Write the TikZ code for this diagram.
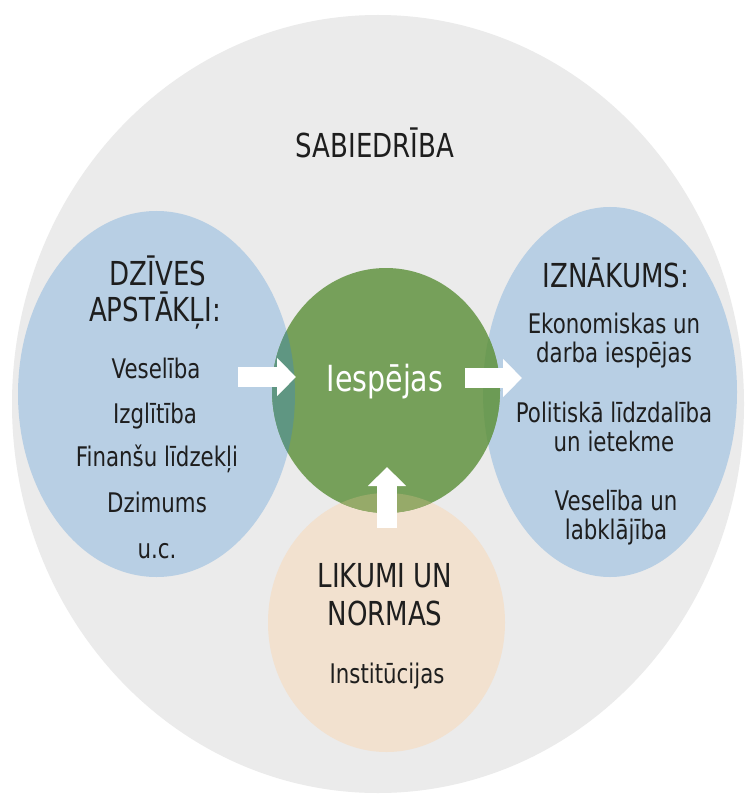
\documentclass[tikz,border=0pt]{standalone}
\usepackage{fontspec}
\newfontfamily\dvs[FakeStretch=0.79]{DejaVu Sans}
\usetikzlibrary{arrows.meta,shapes.geometric}
\definecolor{sgrey}{HTML}{EBEBEB}
\definecolor{sblue}{HTML}{B8CFE4}
\definecolor{sgreen}{HTML}{76A05A}
\definecolor{speach}{HTML}{F2E1CF}
\definecolor{ovleft}{HTML}{5F9682}
\definecolor{ovright}{HTML}{6C9B55}
\definecolor{ovbottom}{HTML}{96AA69}
\definecolor{txt}{HTML}{1E1E1E}
\tikzset{
  blob/.style={ellipse, inner sep=0pt, outer sep=0pt, draw=none},
  head/.style={font=\dvs\fontsize{33}{38}\selectfont, text=txt, anchor=base, inner sep=0pt},
  body/.style={font=\dvs\fontsize{27}{30}\selectfont, text=txt, anchor=base, inner sep=0pt},
  blockarrow/.style={draw=white, line width=20pt, line cap=butt,
    -{Triangle[width=37pt,length=19pt]}}
}
\begin{document}
\begin{tikzpicture}[x=1pt,y=-1pt]
\useasboundingbox (0,0) rectangle (746,794);
\fill[white] (0,0) rectangle (746,794);
% shapes
\node[blob, fill=sgrey, minimum width=732pt, minimum height=778pt] (soc) at (378,404) {};
\node[blob, fill=sblue, minimum width=277pt, minimum height=366pt] (life) at (156.5,394) {};
\node[blob, fill=sblue, minimum width=254pt, minimum height=370pt] (out) at (610,392) {};
\node[blob, fill=speach, minimum width=237pt, minimum height=259pt] (law) at (386.5,622.5) {};
\node[blob, fill=sgreen, minimum width=228pt, minimum height=245pt] (opp) at (386,390.5) {};
% overlaps
\begin{scope}
\clip (156.5,394) ellipse [x radius=138.5pt, y radius=183pt];
\fill[ovleft] (386,390.5) ellipse [x radius=114pt, y radius=122.5pt];
\end{scope}
\begin{scope}
\clip (610,392) ellipse [x radius=127pt, y radius=185pt];
\fill[ovright] (386,390.5) ellipse [x radius=114pt, y radius=122.5pt];
\end{scope}
\begin{scope}
\clip (386.5,622.5) ellipse [x radius=118.5pt, y radius=129.5pt];
\fill[ovbottom] (386,390.5) ellipse [x radius=114pt, y radius=122.5pt];
\end{scope}
% texts
\node[head] (tsoc) at (375,158) {SABIEDRĪBA};
\node[head] (tl1) at (158,285) {DZĪVES};
\node[head] (tl2) at (155,321) {APSTĀKĻI:};
\node[body] (tl3) at (156,378) {Veselība};
\node[body] (tl4) at (155,423) {Izglītība};
\node[body] (tl5) at (157,466) {Finanšu līdzekļi};
\node[body] (tl6) at (157,512) {Dzimums};
\node[body] (tl7) at (157,558) {u.c.};
\node[head] (tr1) at (616,287) {IZNĀKUMS:};
\node[body] (tr2) at (614,333) {Ekonomiskas un};
\node[body] (tr3) at (614,362) {darba iespējas};
\node[body] (tr4) at (614,422) {Politiskā līdzdalība};
\node[body] (tr5) at (614,451) {un ietekme};
\node[body] (tr6) at (616,510) {Veselība un};
\node[body] (tr7) at (616,539) {labklājība};
\node[head] (tb1) at (385,587) {LIKUMI UN};
\node[head] (tb2) at (385,625) {NORMAS};
\node[body] (tb3) at (387,683) {Institūcijas};
\node[font=\dvs\fontsize{36}{40}\selectfont, text=white, anchor=base, inner sep=0pt] (topp) at (385,391) {Iespējas};
% arrows
\coordinate (a1s) at (238,377);
\coordinate (a1e) at (296,377);
\coordinate (a2s) at (465,378);
\coordinate (a2e) at (522,378);
\coordinate (a3s) at (387,528);
\coordinate (a3e) at (387,467);
\draw[blockarrow] (a1s) -- (a1e);
\draw[blockarrow] (a2s) -- (a2e);
\draw[blockarrow] (a3s) -- (a3e);
\end{tikzpicture}
\end{document}
